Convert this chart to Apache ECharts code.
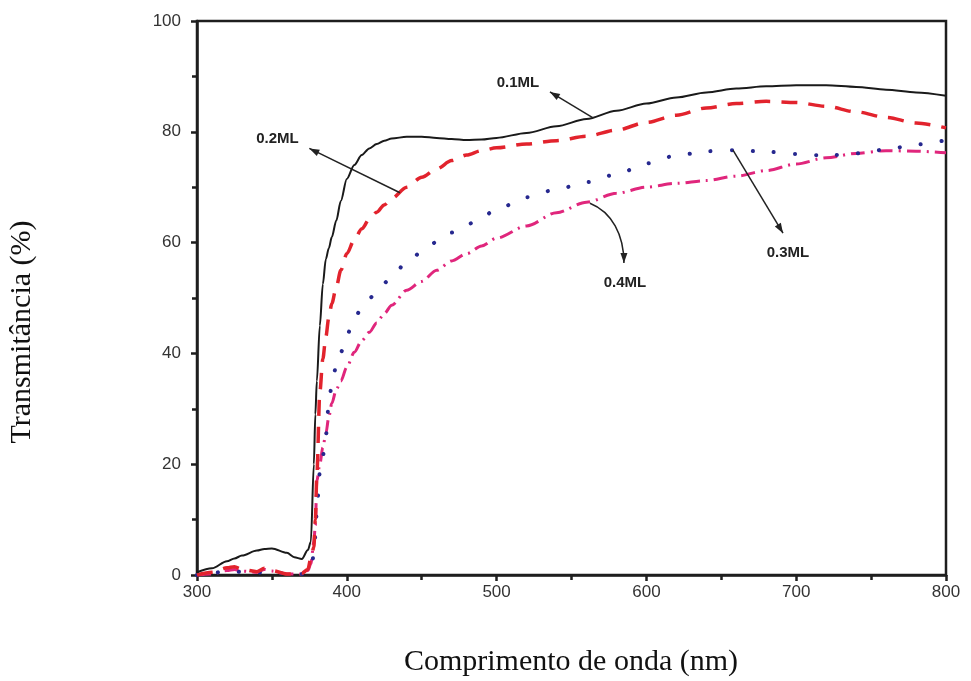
<!DOCTYPE html>
<html>
<head>
<meta charset="utf-8">
<script src="https://cdn.jsdelivr.net/npm/echarts@6/dist/echarts.min.js"></script>
<style>
  html, body { margin: 0; padding: 0; background: #fff; }
  #chart { width: 971px; height: 681px; }
</style>
</head>
<body>
<div id="chart"></div>
<script>
// Wavelength grid (nm), denser around the absorption edge
const wavelength = [300,310,320,325,330,340,345,350,360,365,370,374,376,378,379,380,382,384,386,388,390,393,396,400,405,410,415,420,425,430,440,450,460,470,480,490,500,520,540,560,580,600,620,640,660,680,700,720,740,760,780,800];

// Transmittance (%) for each film
const t01 = [0.5,1.2,2.5,3.0,3.5,4.4,4.7,4.8,4.0,3.2,2.9,4.5,6,20,29,35,45,52.5,57,59,61,64,67.5,71.5,74,75.8,77,77.8,78.4,78.8,79.1,79.1,78.9,78.7,78.5,78.6,78.9,79.8,81,82.3,83.8,85.1,86.2,87.1,87.8,88.2,88.4,88.4,88.1,87.6,87.1,86.5];
const t02 = [0,0.5,1.3,1.5,1.0,0.6,1.2,0.8,0.2,0.2,0.3,1,3,5,10,18,33,39,43,46.5,49,52,55,58,60.5,62.5,64.2,65.5,66.8,68,70,71.8,73.3,74.8,75.8,76.6,77.1,77.8,78.4,79.2,80.3,81.7,83,84.3,85.1,85.5,85.3,84.6,83.6,82.6,81.6,80.7];
const t03 = [0,0.3,0.8,0.7,0.5,0.4,0.5,0.6,0.2,0.2,0.2,0.5,1.5,3.5,7,12,18.5,21.5,25,31,34.5,37.8,40.2,43.3,46.2,48.3,49.9,51.2,52.7,54,56.4,58.3,60.1,61.8,63.2,64.6,66,68.2,69.6,70.9,72.3,74.3,75.7,76.5,76.7,76.4,76,75.7,76.1,76.8,77.7,78.5];
const t04 = [0,0.2,0.8,1.0,0.7,0.5,1.0,0.7,0.2,0.2,0.2,0.8,2,6,9,17,20,23,25.5,28.5,31,33.5,35,37.5,40.2,42.3,43.8,45.5,47.2,48.7,51.4,53,55,56.7,58,59.4,60.8,63,65.4,67.3,68.9,70,70.7,71.2,72,73,74.2,75.3,76.1,76.6,76.5,76.2];

const seriesNames = ['0.1ML', '0.2ML', '0.3ML', '0.4ML'];

// Callout labels and their arrows, in data coordinates
const labelAt = [[514.3, 88.9], [353.7, 78.8], [694.5, 58.2], [585.7, 52.8]];
const arrowFrom = [[564.4, 82.5], [435.5, 69.0], [657.8, 76.7], [562.3, 67.1]];
const arrowTo = [[535.6, 87.2], [375.0, 77.0], [691.2, 61.7], [585.0, 56.3]];
// control points for the curved 0.4ML arrow
const arrowCurve = [null, null, null, [[577, 65.5], [585, 61.4]]];

const xTicks = [300, 400, 500, 600, 700, 800];
const yTicks = [0, 20, 40, 60, 80, 100];
const xTitle = 'Comprimento de onda (nm)';
const yTitle = 'Transmitância (%)';

function zip(xs, ys) { return xs.map((x, i) => [x, ys[i]]); }

const chart = echarts.init(document.getElementById('chart'), null, { renderer: 'canvas' });

const axisCommon = {
  axisLine: { show: true, lineStyle: { color: '#1e1e1e', width: 2.5 } },
  axisTick: { show: true, inside: false, length: 6, lineStyle: { color: '#1e1e1e', width: 2.5 } },
  minorTick: { show: true, splitNumber: 2, length: 5, lineStyle: { color: '#1e1e1e', width: 2.5 } },
  splitLine: { show: false }
};

const lineStyles = [
  { color: '#1a1a1a', width: 2, type: 'solid' },
  { color: '#e2232d', width: 3.5, type: [16, 11] },
  { color: '#26288f', width: 4, type: [0.1, 21], cap: 'round' },
  { color: '#e0267c', width: 3, type: [14, 6, 2, 6] }
];
const dataSets = [t01, t02, t03, t04];

chart.setOption({
  animation: false,
  backgroundColor: '#fff',
  grid: { left: 197, right: 25, top: 21, bottom: 106, show: true, borderColor: '#1e1e1e', borderWidth: 2.5 },
  xAxis: Object.assign({}, axisCommon, {
    type: 'value', min: xTicks[0], max: xTicks[xTicks.length - 1], interval: 100,
    axisLabel: { fontFamily: 'Liberation Sans', fontSize: 17, color: '#333', margin: 9 }
  }),
  yAxis: Object.assign({}, axisCommon, {
    type: 'value', min: yTicks[0], max: yTicks[yTicks.length - 1], interval: 20,
    axisLabel: { fontFamily: 'Liberation Sans', fontSize: 17, color: '#333', margin: 16 }
  }),
  series: dataSets.map((d, i) => ({
    name: seriesNames[i],
    type: 'line',
    data: zip(wavelength, d),
    showSymbol: false,
    smooth: 0.3,
    smoothMonotone: 'x',
    lineStyle: lineStyles[i],
    z: 10 - i
  }))
});

// Callouts: text plus arrow, positioned through the axis scales
function px(p) { return chart.convertToPixel({ gridIndex: 0 }, p); }

const graphics = [];
seriesNames.forEach((name, i) => {
  const t = px(labelAt[i]);
  graphics.push({
    type: 'text', x: t[0], y: t[1], z: 100,
    style: { text: name, fontFamily: 'Liberation Sans', fontWeight: 'bold', fontSize: 15,
             fill: '#222', align: 'center', verticalAlign: 'middle' }
  });
  const a = px(arrowFrom[i]);
  const b = px(arrowTo[i]);
  let prev = a;
  if (arrowCurve[i]) {
    const c1 = px(arrowCurve[i][0]);
    const c2 = px(arrowCurve[i][1]);
    graphics.push({
      type: 'bezierCurve', z: 100,
      shape: { x1: a[0], y1: a[1], cpx1: c1[0], cpy1: c1[1], cpx2: c2[0], cpy2: c2[1], x2: b[0], y2: b[1] },
      style: { stroke: '#222', lineWidth: 1.5, fill: null }
    });
    prev = c2;
  } else {
    graphics.push({
      type: 'line', z: 100,
      shape: { x1: a[0], y1: a[1], x2: b[0], y2: b[1] },
      style: { stroke: '#222', lineWidth: 1.5 }
    });
  }
  const ang = Math.atan2(b[1] - prev[1], b[0] - prev[0]);
  const L = 10, W = 3.5;
  const bx = b[0] - L * Math.cos(ang), by = b[1] - L * Math.sin(ang);
  graphics.push({
    type: 'polygon', z: 101,
    shape: { points: [
      [b[0], b[1]],
      [bx + W * Math.sin(ang), by - W * Math.cos(ang)],
      [bx - W * Math.sin(ang), by + W * Math.cos(ang)]
    ] },
    style: { fill: '#222' }
  });
});

// Axis titles (set in a serif face, placed outside the tick labels)
graphics.push({
  type: 'text', x: 571, y: 662, z: 100,
  style: { text: xTitle, fontFamily: 'Liberation Serif', fontSize: 30, fill: '#111',
           align: 'center', verticalAlign: 'middle' }
});
graphics.push({
  type: 'text', x: 22, y: 332, rotation: Math.PI / 2, z: 100,
  style: { text: yTitle, fontFamily: 'Liberation Serif', fontSize: 30, fill: '#111',
           align: 'center', verticalAlign: 'middle' }
});
chart.setOption({ graphic: graphics });
</script>
</body>
</html>
